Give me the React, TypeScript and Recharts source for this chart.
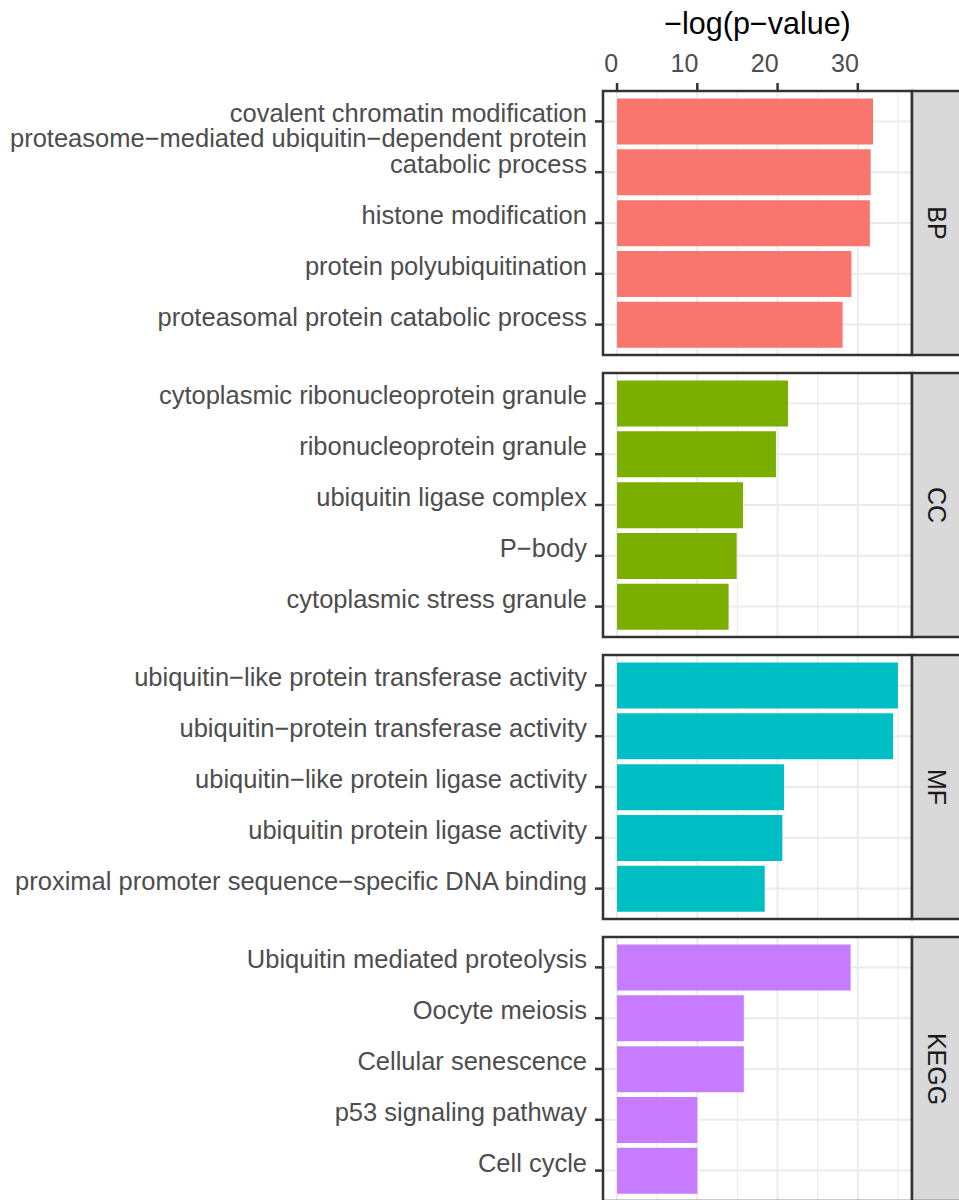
import React from 'react';
import { BarChart, Bar, XAxis, YAxis, CartesianGrid } from 'recharts';

const FONT = '"Liberation Sans", Arial, Helvetica, sans-serif';

// terms listed top to bottom in each facet
const bpTerms = [
  'covalent chromatin modification',
  'proteasome−mediated ubiquitin−dependent protein\ncatabolic process',
  'histone modification',
  'protein polyubiquitination',
  'proteasomal protein catabolic process',
];
const bpValues = [31.9, 31.6, 31.5, 29.2, 28.1];

const ccTerms = [
  'cytoplasmic ribonucleoprotein granule',
  'ribonucleoprotein granule',
  'ubiquitin ligase complex',
  'P−body',
  'cytoplasmic stress granule',
];
const ccValues = [21.3, 19.8, 15.7, 14.9, 13.9];

const mfTerms = [
  'ubiquitin−like protein transferase activity',
  'ubiquitin−protein transferase activity',
  'ubiquitin−like protein ligase activity',
  'ubiquitin protein ligase activity',
  'proximal promoter sequence−specific DNA binding',
];
const mfValues = [35.0, 34.4, 20.8, 20.6, 18.4];

const keggTerms = [
  'Ubiquitin mediated proteolysis',
  'Oocyte meiosis',
  'Cellular senescence',
  'p53 signaling pathway',
  'Cell cycle',
];
const keggValues = [29.1, 15.8, 15.8, 10.0, 10.0];

const stripNames = ['BP', 'CC', 'MF', 'KEGG'];
const colors = ['#F8766D', '#7CAE00', '#00BFC4', '#C77CFF'];

const xTicks = [0, 10, 20, 30];
const xMinor = [5, 15, 25, 35];
const xDomain: [number, number] = [-1.75, 36.75];

const panels = [
  { terms: bpTerms, values: bpValues },
  { terms: ccTerms, values: ccValues },
  { terms: mfTerms, values: mfValues },
  { terms: keggTerms, values: keggValues },
];

const PANEL_TOP = 91;
const PANEL_H = 264;
const PANEL_STEP = 282;
const PLOT_LEFT = 603;
const PLOT_RIGHT = 912;

// vertical grid positions from the x scale (or the plot offset if no scale is passed)
const gridAt = (vals: number[]) => (props: any) => {
  const s = props?.xAxis?.scale;
  if (typeof s === 'function') return vals.map((v) => s(v));
  if (s && typeof s.map === 'function') return vals.map((v) => s.map(v));
  const off = props?.offset;
  if (off && typeof off.left === 'number' && typeof off.width === 'number') {
    return vals.map((v) => off.left + ((v - xDomain[0]) / (xDomain[1] - xDomain[0])) * off.width);
  }
  return [];
};

const TermTick = (props: any) => {
  const { x, y, payload } = props;
  const lines = String(payload.value).split('\n');
  return (
    <text x={x} y={y} textAnchor="end" fontSize={25.5} fontFamily={FONT} fill="#4D4D4D">
      {lines.map((ln, i) => (
        <tspan key={i} x={x} y={y + 1 - (lines.length - 1 - i) * 26}>
          {ln}
        </tspan>
      ))}
    </text>
  );
};

const ValueTick = (props: any) => {
  const { x, y, payload } = props;
  return (
    <text x={x + 1} y={y} textAnchor="end" fontSize={25} fontFamily={FONT} fill="#4D4D4D">
      {payload.value}
    </text>
  );
};

const Panel = ({ terms, values, color, first }: any) => {
  const data = terms.map((term: string, i: number) => ({ term, value: values[i] }));
  const top = first ? PANEL_TOP : 0;
  return (
    <BarChart
      width={959}
      height={top + PANEL_H + 4}
      data={data}
      layout="vertical"
      margin={{ top: first ? 51 : 0, right: 959 - PLOT_RIGHT, bottom: 4, left: 0 }}
      barCategoryGap="5%"
    >
      <CartesianGrid stroke="#EBEBEB" strokeWidth={2} verticalCoordinatesGenerator={gridAt(xTicks)} />
      <CartesianGrid
        stroke="#EBEBEB"
        strokeWidth={1.2}
        horizontal={false}
        verticalCoordinatesGenerator={gridAt(xMinor)}
      />
      <XAxis
        type="number"
        orientation="top"
        domain={xDomain}
        ticks={xTicks}
        allowDataOverflow
        hide={!first}
        height={first ? 40 : 0}
        tick={<ValueTick />}
        tickSize={8}
        tickMargin={11}
        tickLine={{ stroke: '#333333', strokeWidth: 2.5 }}
        axisLine={false}
        interval={0}
      />
      <YAxis
        type="category"
        dataKey="term"
        width={PLOT_LEFT}
        padding={{ top: 5, bottom: 5 }}
        tick={<TermTick />}
        tickSize={8}
        tickMargin={8}
        tickLine={{ stroke: '#333333', strokeWidth: 2.5 }}
        axisLine={false}
        interval={0}
      />
      <Bar dataKey="value" fill={color} isAnimationActive={false} />
    </BarChart>
  );
};

export default function App() {
  return (
    <div
      style={{
        position: 'absolute',
        left: 0,
        top: 0,
        width: 959,
        height: 1200,
        overflow: 'hidden',
        background: '#FFFFFF',
        fontFamily: FONT,
      }}
    >
      {panels.map((p, i) => (
        <div
          key={stripNames[i]}
          style={{ position: 'absolute', left: 0, top: i === 0 ? 0 : PANEL_TOP + i * PANEL_STEP }}
        >
          <Panel terms={p.terms} values={p.values} color={colors[i]} first={i === 0} />
        </div>
      ))}
      <svg width={959} height={1200} style={{ position: 'absolute', left: 0, top: 0 }}>
        <text
          x={(PLOT_LEFT + PLOT_RIGHT) / 2}
          y={34}
          textAnchor="middle"
          fontSize={30.5}
          fontFamily={FONT}
          fill="#000000"
        >
          −log(p−value)
        </text>
        {stripNames.map((name, i) => {
          const y0 = PANEL_TOP + i * PANEL_STEP;
          return (
            <g key={name}>
              <rect
                x={PLOT_LEFT}
                y={y0}
                width={PLOT_RIGHT - PLOT_LEFT}
                height={PANEL_H}
                fill="none"
                stroke="#333333"
                strokeWidth={2.5}
              />
              <rect
                x={PLOT_RIGHT}
                y={y0}
                width={60}
                height={PANEL_H}
                fill="#D9D9D9"
                stroke="#333333"
                strokeWidth={2.5}
              />
              <text
                x={937}
                y={y0 + PANEL_H / 2}
                transform={`rotate(90 937 ${y0 + PANEL_H / 2})`}
                textAnchor="middle"
                dominantBaseline="central"
                fontSize={25}
                fontFamily={FONT}
                fill="#1A1A1A"
              >
                {name}
              </text>
            </g>
          );
        })}
      </svg>
    </div>
  );
}
